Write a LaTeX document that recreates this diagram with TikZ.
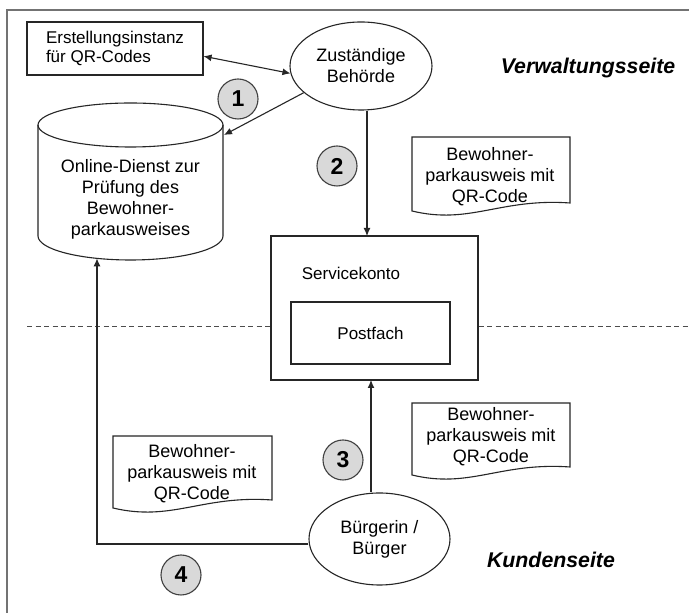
\documentclass[tikz,border=0pt]{standalone}
\usepackage{fontspec}
\setmainfont{Liberation Sans}
\usetikzlibrary{shapes.geometric,arrows.meta,calc}
\newcommand\docshape[4]{\draw[lw,fill=white] (#1,#3) -- (#2,#3) -- (#2,#4) .. controls ({#2-70},{#4+5}) and ({#2-100},{#4-22}) .. (#1,{#4-8}) -- cycle;}
\begin{document}
\begin{tikzpicture}[x=1pt,y=1pt,
  lw/.style={line width=1.1pt, draw=black!85},
  txt/.style={font=\fontsize{18}{21}\selectfont, align=center, inner sep=0pt},
  txts/.style={font=\fontsize{17}{19}\selectfont, align=center, inner sep=0pt},
  arr/.style={lw, -{Latex[length=8pt,width=7pt]}},
  darr/.style={lw, {Latex[length=8pt,width=7pt]}-{Latex[length=8pt,width=7pt]}},
  num/.style={circle, draw=black!75, line width=1.1pt, fill=black!15, minimum size=40pt, inner sep=0pt, font=\fontsize{23}{23}\selectfont\bfseries},
  side/.style={font=\fontsize{21.3}{22}\selectfont\bfseries\itshape, inner sep=0pt}
]
\useasboundingbox (0,0) rectangle (689,613);
\fill[white] (0,0) rectangle (689,613);
\draw[line width=2pt, draw=black!55] (7,-10) -- (7,602.5) -- (700,602.5);

% nodes
\node[lw, rectangle, minimum width=176pt, minimum height=53pt, txts, align=left] (erst) at (115,564.5) {Erstellungsinstanz\\für QR-Codes};
\node[lw, ellipse, minimum width=142pt, minimum height=88pt, txt] (beh) at (361,547) {Zuständige\\Behörde};

% cylinder
\draw[lw] (38,488) -- (38,377) arc[start angle=180, end angle=360, x radius=92.5, y radius=24] -- (223,488);
\draw[lw] (130.5,488) ellipse[x radius=92.5, y radius=22];
\node[txt] (cyl) at (130.5,414) {Online-Dienst zur\\Prüfung des\\Bewohner-\\parkausweises};
\coordinate (cyltop) at (224,478);
\coordinate (cylbot) at (97,354.6);

% Servicekonto
\node[lw, rectangle, minimum width=207pt, minimum height=144pt] (sk) at (374.5,305) {};
\node[txts] (sklabel) at (351,340) {Servicekonto};
\node[lw, rectangle, minimum width=159pt, minimum height=62pt, txts] (pf) at (370.5,280) {Postfach};

% Buerger
\node[lw, ellipse, minimum width=141pt, minimum height=92pt, txt] (bg) at (379.5,74) {Bürgerin /\\Bürger};

% dashed separator
\coordinate (dl) at (27,286.5);
\coordinate (dr) at (700,286.5);
\draw[draw=black!70, line width=1pt, dash pattern=on 5pt off 3.5pt] (dl) -- (dl -| sk.west);
\draw[draw=black!70, line width=1pt, dash pattern=on 5pt off 3.5pt] (sk.east |- dr) -- (dr);

% documents
\docshape{412}{570}{476}{410}
\node[txt] (d1) at (490,436) {Bewohner-\\parkausweis mit\\QR-Code};
\docshape{412}{570}{210}{146}
\node[txt] (d2) at (491,176) {Bewohner-\\parkausweis mit\\QR-Code};
\docshape{113}{272}{177}{113}
\node[txt] (d3) at (192,139) {Bewohner-\\parkausweis mit\\QR-Code};

% connectors
\draw[darr] (erst.-5.5) -- (beh.186);
\draw[arr] (beh.205) -- (cyltop);
\coordinate (a2) at (367,377);
\draw[arr] (beh.south -| a2) -- (a2);
\coordinate (a3) at (371,233);
\draw[arr] (bg.north -| a3) -- (a3);
\draw[arr] ([yshift=-5pt]bg.west) -| (cylbot);

% numbers
\node[num] (n1) at (238,514) {1};
\node[num] (n2) at (337,447) {2};
\node[num] (n3) at (343,153) {3};
\node[num] (n4) at (181,38) {4};

% side labels
\node[side] (vs) at (588,545) {Verwaltungsseite};
\node[side] (ks) at (551,53) {Kundenseite};
\end{tikzpicture}
\end{document}
